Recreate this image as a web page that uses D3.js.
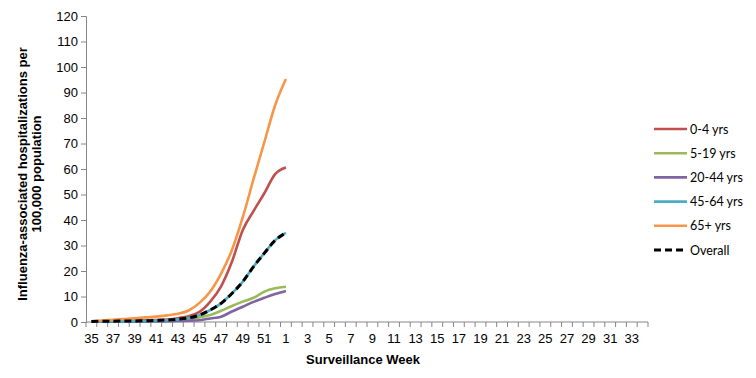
<!DOCTYPE html>
<html>
<head>
<meta charset="utf-8">
<script src="https://cdn.jsdelivr.net/npm/d3@7"></script>
<style>
  body { margin: 0; background: #fff; }
  text { font-family: "Liberation Sans", Arial, sans-serif; }
</style>
</head>
<body>
<div id="chart"></div>
<script>
// surveillance weeks: 35..52 then 1..34
var weeks = d3.range(35, 53).concat(d3.range(1, 35));

// series values (weeks 35 through week 1)
var age0to4   = [0.2, 0.3, 0.4, 0.5, 0.6, 0.7, 0.8, 1.0, 1.5, 2.3, 4.0, 8.0, 14.0, 23.6, 36.0, 43.5, 50.5, 58.0, 60.6];
var age5to19  = [0.1, 0.1, 0.1, 0.1, 0.2, 0.2, 0.3, 0.4, 0.6, 1.0, 1.8, 2.7, 4.4, 6.3, 8.0, 9.5, 11.9, 13.2, 13.8];
var age20to44 = [0.1, 0.1, 0.1, 0.1, 0.1, 0.2, 0.2, 0.3, 0.4, 0.5, 0.7, 1.4, 2.1, 4.1, 6.0, 7.9, 9.5, 11.0, 12.2];
var age45to64 = [0.1, 0.2, 0.3, 0.3, 0.4, 0.5, 0.6, 0.7, 1.0, 1.6, 2.7, 4.7, 7.3, 11.2, 15.8, 21.7, 27.0, 32.0, 35.0];
var age65plus = [0.3, 0.6, 0.9, 1.2, 1.5, 1.8, 2.1, 2.6, 3.2, 4.5, 7.5, 12.0, 19.0, 28.2, 41.0, 56.0, 70.5, 85.0, 95.3];
var overall   = [0.2, 0.3, 0.3, 0.4, 0.4, 0.5, 0.6, 0.8, 1.1, 1.6, 2.7, 4.7, 7.3, 11.2, 15.8, 21.7, 27.0, 32.0, 35.0];

var seriesNames = ["0-4 yrs", "5-19 yrs", "20-44 yrs", "45-64 yrs", "65+ yrs", "Overall"];
var seriesValues = [age0to4, age5to19, age20to44, age45to64, age65plus, overall];
var yTicks = d3.range(0, 121, 10);

var myColor = {
  "0-4 yrs": "#C0504D",
  "5-19 yrs": "#9BBB59",
  "20-44 yrs": "#8064A2",
  "45-64 yrs": "#4BACC6",
  "65+ yrs": "#F79646",
  "Overall": "#000000"
};

var W = 756, H = 378;
var margin = {top: 16, left: 86},
    width = 562,
    height = 306;

var svg = d3.select("#chart")
  .append("svg")
    .attr("width", W)
    .attr("height", H)
  .append("g")
    .attr("transform", "translate(" + margin.left + "," + margin.top + ")");

var x = d3.scaleBand()
  .domain(weeks)
  .range([0, width]);

var y = d3.scaleLinear()
  .domain([0, 120])
  .range([height, 0]);

var axisColor = "#868686";

// Y axis
var yAxis = svg.append("g")
  .call(d3.axisLeft(y).tickValues(yTicks).tickSizeOuter(0).tickSize(5).tickPadding(3));
yAxis.select(".domain").attr("stroke", axisColor);
yAxis.selectAll(".tick line").attr("stroke", axisColor);
yAxis.selectAll(".tick text")
  .style("font-family", "Liberation Sans, Arial, sans-serif")
  .style("font-size", "13px")
  .attr("fill", "#000");

// X axis: ticks between categories (Excel style)
var xAxis = svg.append("g")
  .attr("transform", "translate(0," + height + ")");
xAxis.append("line")
  .attr("x1", 0).attr("x2", width)
  .attr("stroke", axisColor);
xAxis.selectAll(".bt")
  .data(d3.range(weeks.length + 1))
  .enter().append("line")
    .attr("x1", function(i) { return i * x.step(); })
    .attr("x2", function(i) { return i * x.step(); })
    .attr("y1", 0).attr("y2", 5)
    .attr("stroke", axisColor);
xAxis.selectAll(".lbl")
  .data(weeks.filter(function(d, i) { return i % 2 == 0; }))
  .enter().append("text")
    .attr("x", function(d) { return x(d) + x.bandwidth() / 2; })
    .attr("y", 21)
    .attr("text-anchor", "middle")
    .style("font-size", "13px")
    .text(function(d) { return d; });

// axis titles
svg.append("text")
  .attr("x", width / 2 - 4)
  .attr("y", height + 42)
  .attr("text-anchor", "middle")
  .style("font-size", "13px")
  .style("font-weight", "bold")
  .text("Surveillance Week");

var yTitle = svg.append("text")
  .attr("transform", "translate(" + (-59) + "," + (height / 2 + 5) + ") rotate(-90)")
  .attr("text-anchor", "middle")
  .style("font-size", "13px")
  .style("font-weight", "bold");
yTitle.append("tspan").attr("x", 0).attr("dy", 0).text("Influenza-associated hospitalizations per");
yTitle.append("tspan").attr("x", 0).attr("dy", 14).text("100,000  population");

// lines
var line = d3.line()
  .curve(d3.curveMonotoneX)
  .x(function(d, i) { return x(weeks[i]) + x.bandwidth() / 2; })
  .y(function(d) { return y(d); });

seriesNames.forEach(function(name, k) {
  svg.append("path")
    .datum(seriesValues[k])
    .attr("fill", "none")
    .attr("stroke", myColor[name])
    .attr("stroke-width", name == "Overall" ? 3 : 2.6)
    .attr("stroke-dasharray", name == "Overall" ? "7,4" : null)
    .attr("stroke-linejoin", "round")
    .attr("d", line);
});

// legend
var legend = svg.selectAll(".legend")
  .data(seriesNames)
  .enter().append("g")
    .attr("transform", function(d, i) { return "translate(" + (654 - margin.left) + "," + (129 - margin.top + i * 24.2) + ")"; });
legend.append("line")
  .attr("x1", 0).attr("x2", 33)
  .attr("stroke", function(d) { return myColor[d]; })
  .attr("stroke-width", function(d) { return d == "Overall" ? 3 : 2.6; })
  .attr("stroke-dasharray", function(d) { return d == "Overall" ? "7,4" : null; });
legend.append("text")
  .attr("x", 36)
  .attr("y", 4.5)
  .style("font-family", "Lato, 'Open Sans', sans-serif")
  .style("font-size", "12.5px")
  .text(function(d) { return d; });
</script>
</body>
</html>
